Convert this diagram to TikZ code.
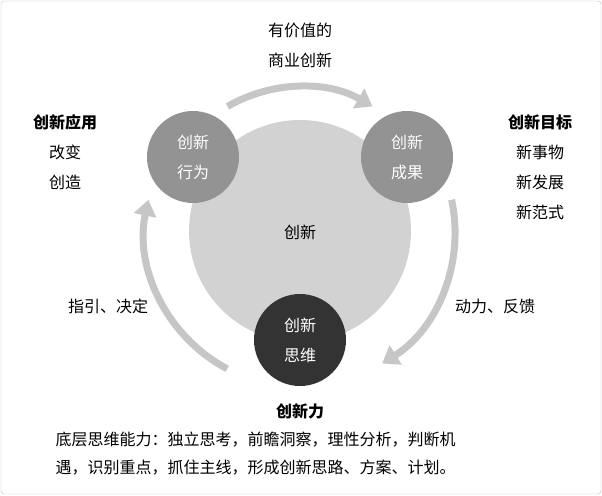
\documentclass[tikz,border=0pt]{standalone}
\usepackage{fontspec}
\setmainfont{Noto Sans CJK SC}
\usetikzlibrary{arrows.meta}
\begin{document}
\begin{tikzpicture}[x=1pt,y=-1pt,
  txt/.style={font=\fontsize{16}{30}\selectfont,align=center},
  bold/.style={font=\fontsize{16}{30}\selectfont\bfseries},
  small/.style={circle,minimum size=92pt,inner sep=0pt,text=white,align=center,font=\fontsize{16}{30}\selectfont},
  arc/.style={line width=7pt,gray!45,-{Triangle[length=16pt,width=22pt]}}]
\useasboundingbox (0,0) rectangle (602,495);
\draw[gray!50,rounded corners=3pt] (1,1) rectangle (601,494);
\node[circle,fill=gray!35,minimum size=222pt,inner sep=0pt] (big) at (300,231) {};
\node[txt] (cx) at (300,232) {创新};
\node[small,fill=gray!85] (xw) at (193,157) {创新\\行为};
\node[small,fill=gray!85] (cg) at (407,157) {创新\\成果};
\node[small,fill=black!80] (sw) at (300,340) {创新\\思维};
\coordinate (c) at (300,232);
\draw[arc] ([shift={(-120:145)}]c) arc[start angle=-120,end angle=-60,radius=145];
\draw[arc] ([shift={(-12:155)}]c) arc[start angle=-12,end angle=58,radius=155];
\draw[arc] ([shift={(118:155)}]c) arc[start angle=118,end angle=192,radius=155];
\node[txt] (t1) at (300,45) {有价值的\\商业创新};
\node[bold] (a1) at (65,122) {创新应用};
\node[txt] (a2) at (65,167) {改变\\创造};
\node[bold] (b1) at (540,122) {创新目标};
\node[txt] (b2) at (540,182) {新事物\\新发展\\新范式};
\node[txt] (l1) at (108,306) {指引、决定};
\node[txt] (r1) at (495,306) {动力、反馈};
\node[bold] (f1) at (300,411) {创新力};
\node[txt,align=left,anchor=west,font=\fontsize{16}{28}\selectfont] (f2) at (52,454) {底层思维能力：独立思考，前瞻洞察，理性分析，判断机\\遇，识别重点，抓住主线，形成创新思路、方案、计划。};
\end{tikzpicture}
\end{document}
